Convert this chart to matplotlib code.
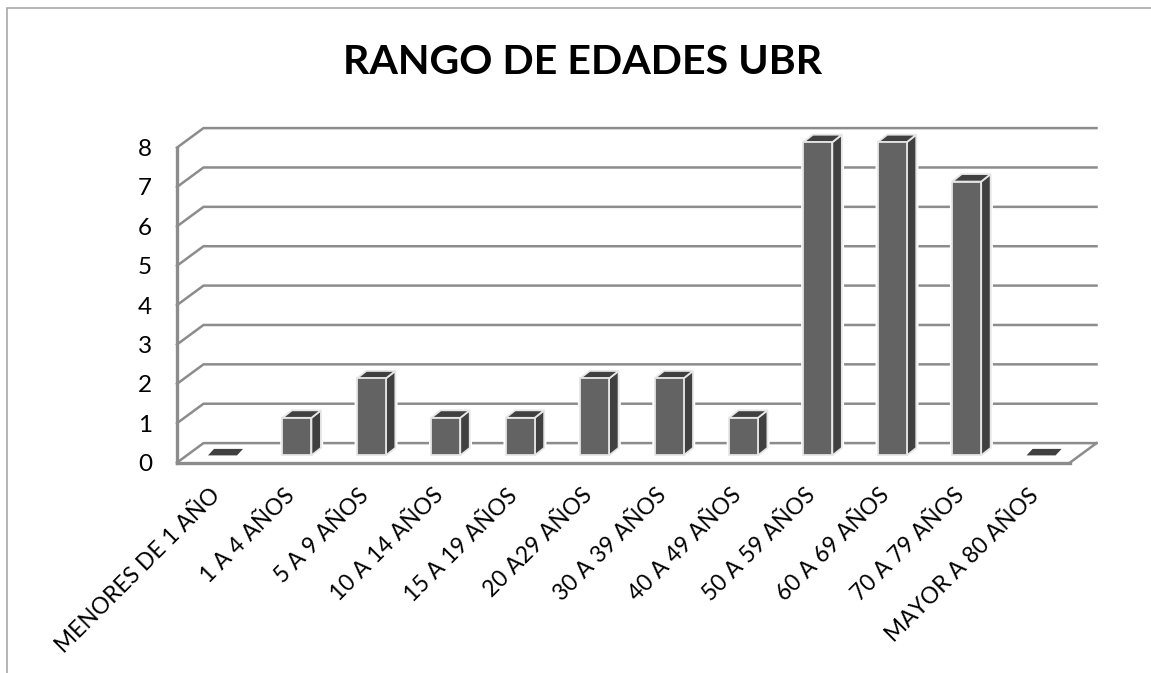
import matplotlib
matplotlib.use("Agg")
import matplotlib.pyplot as plt
from matplotlib.lines import Line2D
from matplotlib.patches import Polygon
from matplotlib.transforms import ScaledTranslation

title = "RANGO DE EDADES UBR"
categories = ["MENORES DE 1 AÑO", "1 A 4 AÑOS", "5 A 9 AÑOS", "10 A 14 AÑOS",
              "15 A 19 AÑOS", "20 A29 AÑOS", "30 A 39 AÑOS", "40 A 49 AÑOS",
              "50 A 59 AÑOS", "60 A 69 AÑOS", "70 A 79 AÑOS", "MAYOR A 80 AÑOS"]
values = [0, 1, 2, 1, 1, 2, 2, 1, 8, 8, 7, 0]
y_ticks = [0, 1, 2, 3, 4, 5, 6, 7, 8]

W, H = 1151, 673
L, R, B, T = 177, 1070, 462.6, 147.6
plt.rcParams['font.family'] = ['Lato', 'DejaVu Sans']
fig = plt.figure(figsize=(W / 100, H / 100), dpi=100, facecolor='white')
ax = fig.add_axes([L / W, (H - B) / H, (R - L) / W, (B - T) / H])
ax.set_xlim(-0.5, 11.5)
ax.set_ylim(0, 8)
ax.patch.set_visible(False)

ux = (R - L) / 12      # pixels per category
uy = (B - T) / 8       # pixels per value unit
# depth of the 3D box, in data units
wall_dx, wall_dy = 26.5 / ux, 19.5 / uy
front_dx, front_dy = 8.3 / ux, 7.2 / uy
bar_dx, bar_dy = 9.5 / ux, 7.5 / uy
top_trim = 1.8 / uy
bar_w = 29 / ux
grid = '#8c8c8c'
lw = 1.8

xmin, xmax = ax.get_xlim()
for v in y_ticks:
    ax.plot([xmin, xmin + wall_dx, xmax + wall_dx],
            [v, v + wall_dy, v + wall_dy],
            color=grid, lw=lw, clip_on=False, zorder=1, solid_joinstyle='miter')
ax.plot([xmax, xmax + wall_dx], [0, wall_dy], color=grid, lw=lw, clip_on=False, zorder=1)

for s in ('top', 'right'):
    ax.spines[s].set_visible(False)
for s in ('left', 'bottom'):
    ax.spines[s].set_color(grid)
    ax.spines[s].set_linewidth(2.4)
    ax.spines[s].set_zorder(1.5)

for i, v in enumerate(values):
    x0 = i - bar_w / 2 + front_dx
    x1 = x0 + bar_w
    y0 = front_dy
    y1 = v + front_dy - top_trim
    ekw = dict(edgecolor='#e6e6e6', linewidth=1.3, joinstyle='miter',
               clip_on=False, zorder=3)
    halo = dict(edgecolor='white', linewidth=3.2, joinstyle='miter',
                clip_on=False, zorder=2.5, facecolor='white')
    if v == 0:
        ax.add_patch(Polygon([(x0, y0), (x1, y0), (x1 + 6 / ux, y0 + 6.5 / uy), (x0 + 6 / ux, y0 + 6.5 / uy)],
                             facecolor='#404040', edgecolor='none', clip_on=False, zorder=3))
        continue
    ax.add_patch(Polygon([(x0, y0), (x1, y0), (x1 + bar_dx, y0 + bar_dy),
                          (x1 + bar_dx, y1 + bar_dy), (x0 + bar_dx, y1 + bar_dy), (x0, y1)], **halo))
    ax.add_patch(Polygon([(x1, y0), (x1 + bar_dx, y0 + bar_dy), (x1 + bar_dx, y1 + bar_dy), (x1, y1)],
                         facecolor='#404040', **ekw))
    ax.add_patch(Polygon([(x0, y1), (x1, y1), (x1 + bar_dx, y1 + bar_dy), (x0 + bar_dx, y1 + bar_dy)],
                         facecolor='#404040', **ekw))
    ax.add_patch(Polygon([(x0, y0), (x1, y0), (x1, y1), (x0, y1)],
                         facecolor='#636363', **ekw))

ax.set_yticks(y_ticks)
ax.set_xticks(range(len(categories)))
ax.set_xticklabels(categories, rotation=45, ha='right', rotation_mode='anchor',
                   fontsize=16.4, color='black')
ax.tick_params(axis='x', length=0, pad=16)
ax.tick_params(axis='y', length=0, pad=18, labelsize=17.5, labelcolor='black')
shift = ScaledTranslation(-5 / 100, 0, fig.dpi_scale_trans)
for lab in ax.get_xticklabels():
    lab.set_transform(lab.get_transform() + shift)

fig.text(583 / W, 1 - 63 / H, title, ha='center', va='center',
         fontsize=29.6, fontweight='bold', color='black')

# chart-area frame: only the top and left edges are inside the crop
fig.add_artist(Line2D([7.5 / W, 7.5 / W, 1], [0, 1 - 8 / H, 1 - 8 / H],
                      color='#a0a0a0', lw=1.1, solid_joinstyle='miter'))

fig.savefig('out.png', dpi=100, facecolor='white')
